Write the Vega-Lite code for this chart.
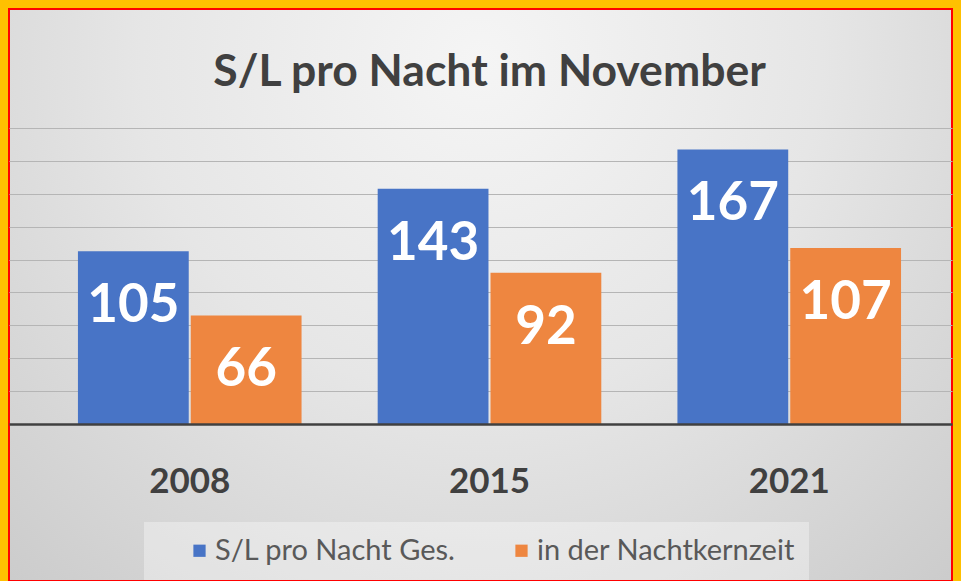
{
  "$schema": "https://vega.github.io/schema/vega-lite/v6.json",
  "width": 943,
  "height": 572,
  "autosize": {"type": "none"},
  "padding": {"left": 9, "top": 9, "right": 9, "bottom": 0},
  "background": "#FFC000",
  "view": {
    "fill": {
      "gradient": "radial",
      "x1": 0.5, "y1": 0.25, "r1": 0,
      "x2": 0.5, "y2": 0.25, "r2": 0.8,
      "stops": [
        {"offset": 0, "color": "#f5f5f5"},
        {"offset": 0.45, "color": "#e6e6e6"},
        {"offset": 1, "color": "#c8c8c8"}
      ]
    },
    "stroke": "#FF0000",
    "strokeWidth": 2
  },
  "title": {
    "text": "S/L pro Nacht im November",
    "font": "Lato",
    "fontSize": 44.5,
    "fontWeight": "bold",
    "color": "#404040",
    "anchor": "middle",
    "frame": "group",
    "baseline": "alphabetic",
    "offset": -121,
    "dx": 9
  },
  "data": {
    "values": [
      {"year": "2008", "series": "S/L pro Nacht Ges.", "value": 105},
      {"year": "2008", "series": "in der Nachtkernzeit", "value": 66},
      {"year": "2015", "series": "S/L pro Nacht Ges.", "value": 143},
      {"year": "2015", "series": "in der Nachtkernzeit", "value": 92},
      {"year": "2021", "series": "S/L pro Nacht Ges.", "value": 167},
      {"year": "2021", "series": "in der Nachtkernzeit", "value": 107}
    ]
  },
  "encoding": {
    "x": {
      "field": "year",
      "type": "nominal",
      "scale": {"paddingInner": 0.254, "paddingOuter": 0.2, "align": 0.575},
      "axis": {
        "orient": "bottom",
        "offset": -157,
        "title": null,
        "labelAngle": 0,
        "ticks": false,
        "grid": false,
        "domainColor": "#404040",
        "domainWidth": 2.5,
        "labelFont": "Lato",
        "labelFontSize": 35,
        "labelFontWeight": "bold",
        "labelColor": "#404040",
        "labelBaseline": "alphabetic",
        "labelPadding": 68,
        "zindex": 1
      }
    },
    "xOffset": {
      "field": "series",
      "type": "nominal",
      "scale": {"domain": ["S/L pro Nacht Ges.", "in der Nachtkernzeit"], "paddingInner": 0.018}
    },
    "y": {
      "field": "value",
      "type": "quantitative",
      "scale": {"domain": [-95.5, 252.4], "nice": false, "zero": false},
      "axis": {
        "title": null,
        "labels": false,
        "ticks": false,
        "domain": false,
        "grid": true,
        "values": [20, 40, 60, 80, 100, 120, 140, 160, 180],
        "gridColor": "#b5b5b5",
        "gridWidth": 1
      }
    }
  },
  "layer": [
    {
      "mark": {"type": "bar"},
      "encoding": {
        "y2": {"datum": 0},
        "color": {
          "field": "series",
          "type": "nominal",
          "scale": {"domain": ["S/L pro Nacht Ges.", "in der Nachtkernzeit"], "range": ["#4874C6", "#EE8640"]},
          "legend": {
            "orient": "none",
            "legendX": 135,
            "legendY": 513,
            "direction": "horizontal",
            "title": null,
            "fillColor": "rgba(255,255,255,0.35)",
            "padding": 14,
            "symbolType": "square",
            "symbolSize": 150,
            "symbolStrokeWidth": 0,
            "labelFont": "Lato",
            "labelFontSize": 29,
            "labelLimit": 500,
            "labelColor": "#595959",
            "columnPadding": 24,
            "symbolOffset": 27,
            "labelOffset": 1
          }
        }
      }
    },
    {
      "mark": {
        "type": "text",
        "baseline": "alphabetic",
        "dy": 71,
        "font": "Lato",
        "fontWeight": "bold",
        "fontSize": 53,
        "fill": "white"
      },
      "encoding": {
        "text": {"field": "value", "type": "quantitative"}
      }
    }
  ]
}
